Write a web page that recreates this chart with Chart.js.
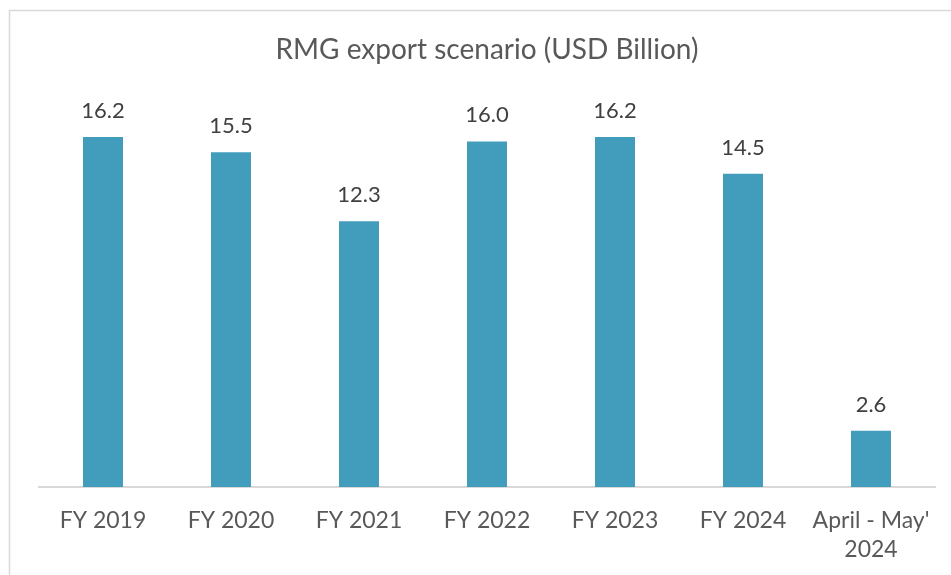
<!DOCTYPE html>
<html>
<head>
<meta charset="utf-8">
<script src="https://cdn.jsdelivr.net/npm/chart.js@4"></script>
<style>
html,body{margin:0;padding:0;background:#fff;}
#wrap{width:951px;height:575px;position:relative;}
</style>
</head>
<body>
<div id="wrap"><canvas id="c" width="951" height="575"></canvas></div>
<script>
const chartTitle = "RMG export scenario (USD Billion)";
const categories = [["FY 2019"], ["FY 2020"], ["FY 2021"], ["FY 2022"], ["FY 2023"], ["FY 2024"], ["April - May'", "2024"]];
const exportValues = [16.2, 15.5, 12.3, 16.0, 16.2, 14.5, 2.6];
const valueLabels = ["16.2", "15.5", "12.3", "16.0", "16.2", "14.5", "2.6"];

const FONT = "Lato, 'Open Sans', sans-serif";

const framePlugin = {
  id: 'frame',
  beforeDraw(chart) {
    const ctx = chart.ctx;
    ctx.save();
    ctx.fillStyle = '#ffffff';
    ctx.fillRect(0, 0, chart.width, chart.height);
    ctx.strokeStyle = '#d9d9d9';
    ctx.lineWidth = 1.5;
    ctx.strokeRect(9.5, 10.5, 1200, 1000);
    ctx.restore();
  }
};

const valueLabelPlugin = {
  id: 'valueLabels',
  afterDatasetsDraw(chart) {
    const ctx = chart.ctx;
    const meta = chart.getDatasetMeta(0);
    ctx.save();
    ctx.font = "22px " + FONT;
    ctx.fillStyle = '#404040';
    ctx.textAlign = 'center';
    ctx.textBaseline = 'alphabetic';
    meta.data.forEach((bar, i) => {
      ctx.fillText(valueLabels[i], bar.x, bar.y - 19);
    });
    ctx.restore();
  }
};

new Chart(document.getElementById('c'), {
  type: 'bar',
  data: {
    labels: categories,
    datasets: [{
      data: exportValues,
      backgroundColor: '#429DBC',
      borderWidth: 0,
      barPercentage: 0.3125,
      categoryPercentage: 1.0
    }]
  },
  options: {
    responsive: false,
    animation: false,
    devicePixelRatio: 1,
    layout: { padding: { top: 33, left: 39, right: 16, bottom: 0 } },
    plugins: {
      legend: { display: false },
      tooltip: { enabled: false },
      title: {
        display: true,
        text: chartTitle,
        color: '#595959',
        font: { family: FONT, size: 28, weight: 'normal', lineHeight: 1.2 },
        padding: { top: 0, bottom: 10 }
      }
    },
    scales: {
      y: {
        display: false,
        min: 0,
        max: 19.0
      },
      x: {
        grid: { display: false, drawTicks: false },
        border: { display: true, color: '#d9d9d9', width: 2 },
        afterFit(scale) { scale.height = 88; },
        ticks: {
          color: '#595959',
          font: { family: FONT, size: 23, lineHeight: 1.25 },
          padding: 19,
          maxRotation: 0,
          autoSkip: false
        }
      }
    }
  },
  plugins: [framePlugin, valueLabelPlugin]
});
</script>
</body>
</html>
